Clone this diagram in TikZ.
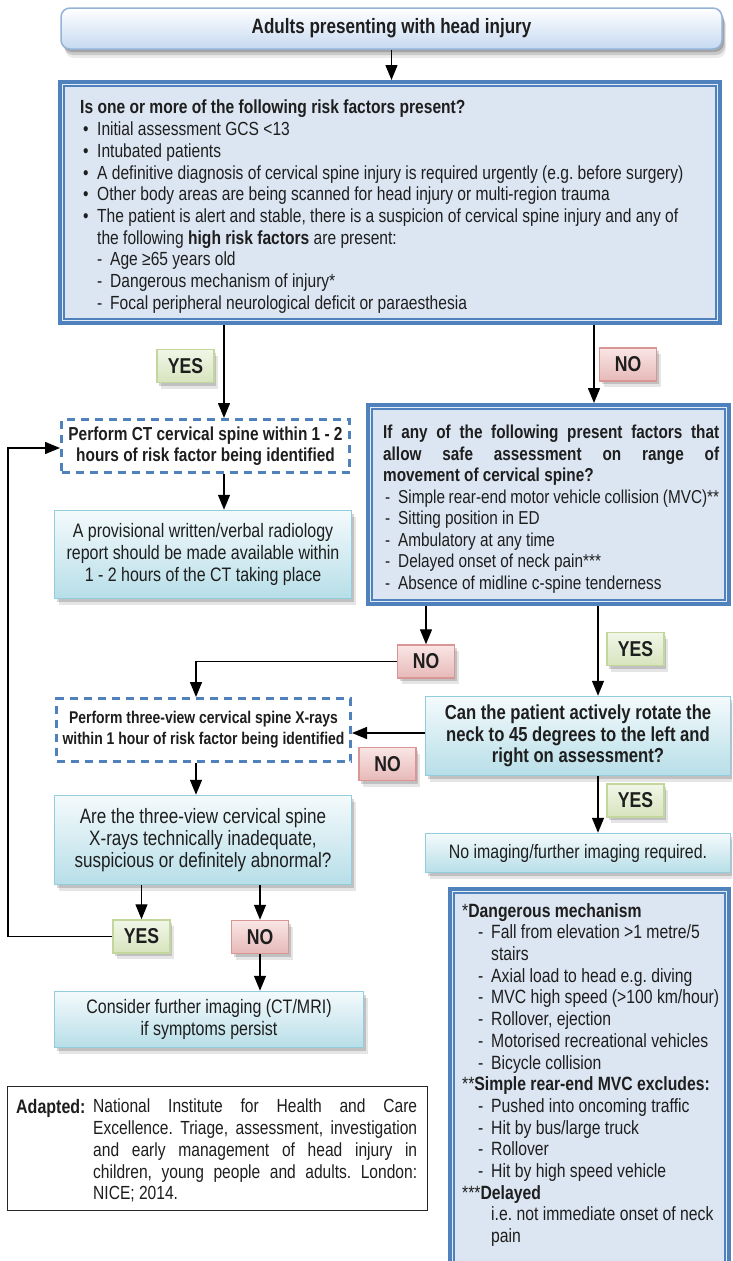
\documentclass[tikz,border=0pt]{standalone}
\usepackage{fontspec}
\setmainfont{Liberation Sans}[FakeStretch=0.82]
\usetikzlibrary{arrows.meta,shadows,calc}
\definecolor{bdblue}{HTML}{4F81BD}
\definecolor{fillblue}{HTML}{DCE6F2}
\definecolor{cyanbd}{HTML}{93CDDD}
\definecolor{cyantop}{HTML}{F4FAFC}
\definecolor{cyanbot}{HTML}{B7DEE8}
\definecolor{greenbd}{HTML}{C3D69B}
\definecolor{greentop}{HTML}{F1F6E8}
\definecolor{greenbot}{HTML}{D7E4BD}
\definecolor{redbd}{HTML}{D99694}
\definecolor{redtop}{HTML}{F9E6E5}
\definecolor{redbot}{HTML}{E6B9B8}
\definecolor{topbd}{HTML}{95B3D7}
\definecolor{topbot}{HTML}{C6D9F1}
\definecolor{txt}{HTML}{1E1E1E}
\frenchspacing
\newcommand\fsz[2]{\fontsize{#1}{#2}\selectfont}
\newcommand\bul{\makebox[17pt][l]{\hspace{3pt}•}}
\newcommand\rdash{\hspace*{17pt}\makebox[13pt][l]{-}}
\newcommand\mdash{\hspace*{2pt}\makebox[13pt][l]{-}}
\newcommand\ldash{\hspace*{16pt}\makebox[13pt][l]{-}}
\tikzset{
  every node/.style={text=txt},
  arr/.style={draw=black, line width=1.4pt, -{Triangle[width=12pt,length=15pt]}},
  soft/.style={drop shadow={shadow xshift=2pt,shadow yshift=-3pt,opacity=0.16,fill=black},
               drop shadow={shadow xshift=4pt,shadow yshift=-6pt,opacity=0.10,fill=black}},
  topsoft/.style={drop shadow={shadow xshift=2pt,shadow yshift=-3pt,opacity=0.18,fill=black},
               drop shadow={shadow xshift=3pt,shadow yshift=-6pt,opacity=0.14,fill=black},
               drop shadow={shadow xshift=4pt,shadow yshift=-9pt,opacity=0.08,fill=black}},
  topbox/.style={draw=topbd, line width=1.5pt, rounded corners=9pt, top color=white,
    bottom color=topbot, topsoft, font=\fsz{20.8}{24}\bfseries, inner sep=0pt},
  dbox/.style={draw=bdblue, line width=7pt, fill=fillblue, inner sep=0pt},
  inline/.style={draw=white, line width=1.2pt, opacity=0.85},
  cbox/.style={draw=cyanbd, line width=1.5pt, top color=cyantop, bottom color=cyanbot,
    soft, align=center, inner sep=0pt},
  dashbox/.style={draw=bdblue, line width=3pt, dash pattern=on 8pt off 6pt, fill=white,
    align=center, inner sep=0pt},
  lab/.style={line width=1.5pt, minimum width=57pt, minimum height=33pt, inner sep=0pt,
    soft, font=\fsz{21.5}{24}\bfseries},
  yeslab/.style={lab, draw=greenbd, top color=greentop, bottom color=greenbot},
  nolab/.style={lab, draw=redbd, top color=redtop, bottom color=redbot},
  plain/.style={inner sep=0pt, anchor=north west},
}
\begin{document}
\begin{tikzpicture}[x=1pt,y=-1pt]
\clip (0,0) rectangle (732,1261);
\fill[white] (0,0) rectangle (732,1261);

% top box
\node[topbox, minimum width=661, minimum height=41] (top) at (391.5,28.5) {Adults presenting with head injury};

% risk factors box
\node[dbox, minimum width=657, minimum height=238] (risk) at (390,202.5) {};
\draw[inline] ([shift={(4.5,4.5)}]risk.north west) rectangle ([shift={(-4.5,-4.5)}]risk.south east);
\node[plain, align=left, font=\fsz{19}{21.7}] (risktxt) at (80,100) {%
\textbf{Is one or more of the following risk factors present?}\\
\bul Initial assessment GCS <13\\
\bul Intubated patients\\
\bul A definitive diagnosis of cervical spine injury is required urgently (e.g. before surgery)\\
\bul Other body areas are being scanned for head injury or multi-region trauma\\
\bul The patient is alert and stable, there is a suspicion of cervical spine injury and any of\\
\hspace*{17pt}the following \textbf{high risk factors} are present:\\
\rdash Age ≥65 years old\\
\rdash Dangerous mechanism of injury*\\
\rdash Focal peripheral neurological deficit or paraesthesia};

% labels under risk box
\node[yeslab] (yes1) at (185.5,366) {YES};
\node[nolab] (no1) at (628,364.5) {NO};

% CT box
\node[dashbox, minimum width=288, minimum height=53,
  font=\fsz{18.8}{20.5}\bfseries] (ct) at (205.5,446) {Perform CT cervical spine within 1 - 2\\hours of risk factor being identified};

% provisional report box
\node[cbox, minimum width=297, minimum height=88, font=\fsz{19.5}{22}] (prov) at (203,554.5)
  {A provisional written/verbal radiology\\report should be made available within\\1 - 2 hours of the CT taking place};

% ROM box
\node[dbox, minimum width=358, minimum height=196] (rom) at (548.5,504.5) {};
\draw[inline] ([shift={(4.5,4.5)}]rom.north west) rectangle ([shift={(-4.5,-4.5)}]rom.south east);
\node[plain, text width=336, align=justify, font=\fsz{18.7}{21.5}] (romtxt) at (383,425) {%
\textbf{If any of the following present factors that\linebreak allow safe assessment on range of\linebreak movement of cervical spine?}\\
\mdash Simple rear-end motor vehicle collision (MVC)**\\
\mdash Sitting position in ED\\
\mdash Ambulatory at any time\\
\mdash Delayed onset of neck pain***\\
\mdash Absence of midline c-spine tenderness};

% labels below ROM
\node[nolab] (no2) at (426,661.5) {NO};
\node[yeslab] (yes2) at (635.5,649) {YES};

% can the patient
\node[cbox, minimum width=305, minimum height=79, font=\fsz{20.3}{21.5}\bfseries] (can) at (578,736)
  {Can the patient actively rotate the\\neck to 45 degrees to the left and\\right on assessment?};

% x-ray box
\node[dashbox, minimum width=294, minimum height=63,
  font=\fsz{17}{21}\bfseries] (xray) at (203.5,730) {Perform three-view cervical spine X-rays\\within 1 hour of risk factor being identified};
\node[nolab] (no3) at (387.5,764) {NO};

% are the x-rays
\node[cbox, minimum width=297, minimum height=89, font=\fsz{20.8}{22}] (are) at (203,840)
  {Are the three-view cervical spine\\X-rays technically inadequate,\\suspicious or definitely abnormal?};

\node[yeslab] (yes3) at (635.5,800.5) {YES};
\node[cbox, minimum width=305, minimum height=39, font=\fsz{19.4}{22}] (noimg) at (578,853)
  {No imaging/further imaging required.};

\node[yeslab] (yes4) at (141.5,936.5) {YES};
\node[nolab] (no4) at (260,937) {NO};

\node[cbox, minimum width=309, minimum height=56, font=\fsz{19.5}{22}] (cons) at (209,1019.5)
  {Consider further imaging (CT/MRI)\\if symptoms persist};

% adapted box
\node[draw=black!85, line width=1.5pt, minimum width=420, minimum height=124, inner sep=0pt] (adapt) at (217.5,1148.5) {};
\node[plain, font=\fsz{19.5}{21.75}\bfseries] (adlab) at (16,1099) {Adapted:};
\node[plain, text width=324, align=justify, font=\fsz{19}{21.75}] (adtxt) at (93,1099) {%
National Institute for Health and Care\linebreak Excellence. Triage, assessment, investigation\linebreak and early management of head injury in\linebreak children, young people and adults. London:\linebreak NICE; 2014.};

% legend box
\node[dbox, minimum width=276, minimum height=381] (legend) at (589.5,1081) {};
\draw[inline] ([shift={(4.5,4.5)}]legend.north west) rectangle ([shift={(-4.5,-4.5)}]legend.south east);
\node[plain, align=left, font=\fsz{19.2}{21.7}] (legtxt) at (462,903) {%
*\textbf{Dangerous mechanism}\\
\ldash Fall from elevation >1 metre/5\\
\hspace*{29pt}stairs\\
\ldash Axial load to head e.g. diving\\
\ldash MVC high speed (>100 km/hour)\\
\ldash Rollover, ejection\\
\ldash Motorised recreational vehicles\\
\ldash Bicycle collision\\
**\textbf{Simple rear-end MVC excludes:}\\
\ldash Pushed into oncoming traffic\\
\ldash Hit by bus/large truck\\
\ldash Rollover\\
\ldash Hit by high speed vehicle\\
***\textbf{Delayed}\\
\hspace*{29pt}i.e. not immediate onset of neck\\
\hspace*{29pt}pain};

% connectors
\coordinate (lp) at (8,936.5);
\draw[arr] (top.south) -- (top.south |- risk.north);
\draw[arr] ([xshift=18.5pt]ct.north |- risk.south) -- ([xshift=18.5pt]ct.north);
\draw[arr] ([xshift=45.5pt]rom.north |- risk.south) -- ([xshift=45.5pt]rom.north);
\draw[arr] ([xshift=18.5pt]ct.south) -- ([xshift=18.5pt]ct.south |- prov.north);
\draw[arr] (no2.north |- rom.south) -- (no2.north);
\draw[arr] (no2.west) -| ([xshift=-7.5pt]xray.north);
\draw[arr] ([xshift=20pt]can.north |- rom.south) -- ([xshift=20pt]can.north);
\draw[arr] ([yshift=3pt]can.west) -- ([yshift=3pt]can.west -| xray.east);
\draw[arr] ([xshift=-7.5pt]xray.south) -- ([xshift=-7.5pt]xray.south |- are.north);
\draw[arr] ([xshift=20pt]can.south) -- ([xshift=20pt]noimg.north);
\draw[arr] (yes4.north |- are.south) -- (yes4.north);
\draw[arr] (no4.north |- are.south) -- (no4.north);
\draw[arr] (yes4.west) -- (yes4.west -| lp) |- ([yshift=-2pt]ct.west);
\draw[arr] (no4.south) -- (no4.south |- cons.north);
\end{tikzpicture}
\end{document}
